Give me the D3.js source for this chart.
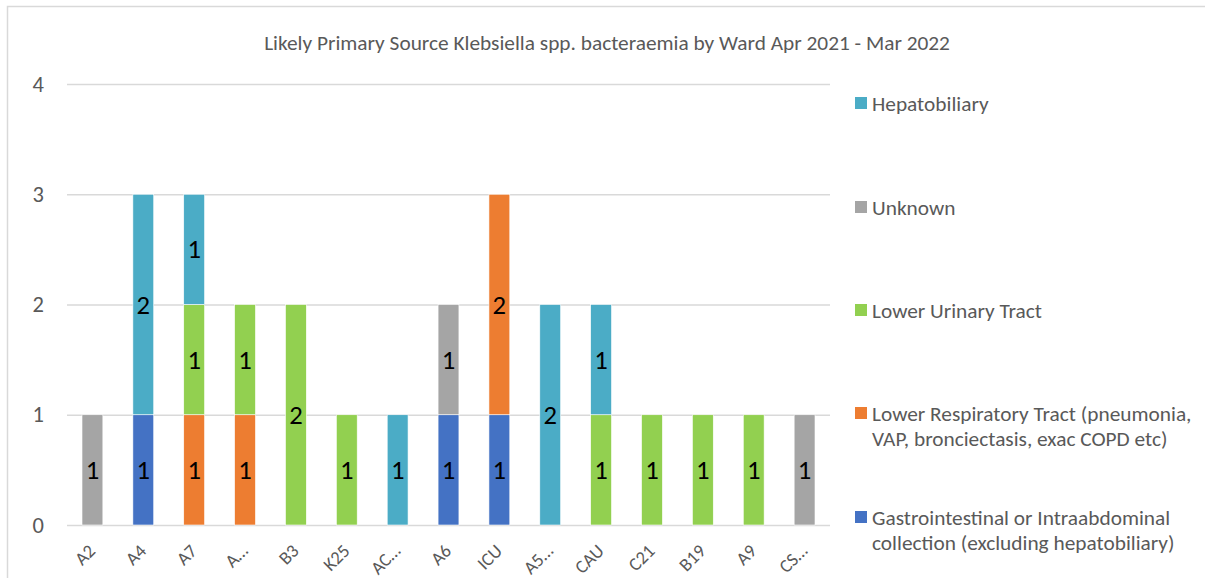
<!DOCTYPE html>
<html>
<head>
<meta charset="utf-8">
<script src="https://cdn.jsdelivr.net/npm/d3@7"></script>
<style>
  html, body { margin: 0; padding: 0; background: #fff; }
  svg { display: block; font-family: Calibri, Carlito, "Lato", sans-serif; }
</style>
</head>
<body>
<svg id="chart" width="1205" height="578"></svg>
<script>
// Wards and counts per likely primary source (stacked bottom to top)
const wards = ["A2", "A4", "A7", "A…", "B3", "K25", "AC…", "A6", "ICU", "A5…", "CAU", "C21", "B19", "A9", "CS…"];
const gastro      = [0, 1, 0, 0, 0, 0, 0, 1, 1, 0, 0, 0, 0, 0, 0];
const respiratory = [0, 0, 1, 1, 0, 0, 0, 0, 2, 0, 0, 0, 0, 0, 0];
const urinary     = [0, 0, 1, 1, 2, 1, 0, 0, 0, 0, 1, 1, 1, 1, 0];
const unknown     = [1, 0, 0, 0, 0, 0, 0, 1, 0, 0, 0, 0, 0, 0, 1];
const hepato      = [0, 2, 1, 0, 0, 0, 1, 0, 0, 2, 1, 0, 0, 0, 0];
const yTicks = [0, 1, 2, 3, 4];

const series = [
  { key: "gastro", name: ["Gastrointestinal or Intraabdominal", "collection (excluding hepatobiliary)"], values: gastro, color: "#4472C4" },
  { key: "resp", name: ["Lower Respiratory Tract (pneumonia,", "VAP, bronciectasis, exac COPD etc)"], values: respiratory, color: "#ED7D31" },
  { key: "urin", name: ["Lower Urinary Tract"], values: urinary, color: "#92D050" },
  { key: "unk", name: ["Unknown"], values: unknown, color: "#A5A5A5" },
  { key: "hep", name: ["Hepatobiliary"], values: hepato, color: "#4BACC6" }
];

const svg = d3.select("#chart");

// Outer chart frame
svg.append("rect")
  .attr("x", 7.5).attr("y", 6.5)
  .attr("width", 1205).attr("height", 600)
  .attr("fill", "none").attr("stroke", "#d9d9d9").attr("stroke-width", 1.5);

// Title
svg.append("text")
  .attr("x", 607).attr("y", 42)
  .attr("dy", "0.36em")
  .attr("text-anchor", "middle")
  .attr("font-size", 21.33).attr("fill", "#595959")
  .text("Likely Primary Source Klebsiella spp. bacteraemia by Ward Apr 2021 - Mar 2022");

const plot = { left: 67, right: 830, top: 84, bottom: 525 };

const x = d3.scaleBand().domain(wards).range([plot.left, plot.right]).paddingInner(0.59).paddingOuter(0.295);
const y = d3.scaleLinear().domain([0, 4]).range([plot.bottom, plot.top]);

// Gridlines
svg.append("g").selectAll("line").data(yTicks).join("line")
  .attr("x1", plot.left).attr("x2", plot.right)
  .attr("y1", d => y(d) + 0.5).attr("y2", d => y(d) + 0.5)
  .attr("stroke", "#d9d9d9").attr("stroke-width", 1.3);

// Y axis labels
const yAxis = d3.axisLeft(y).tickValues(yTicks).tickSize(0).tickPadding(0).tickFormat(d3.format("d"));
const yg = svg.append("g").attr("transform", `translate(${plot.left - 23},0)`).call(yAxis);
yg.select(".domain").remove();
yg.selectAll("text").attr("font-size", 22.5).attr("fill", "#595959")
  .attr("font-family", "Calibri, Carlito, Lato, sans-serif");

// X axis labels
const xAxis = d3.axisBottom(x).tickSize(0).tickPadding(0);
const xg = svg.append("g").attr("transform", `translate(0,${plot.bottom})`).call(xAxis);
xg.select(".domain").remove();
xg.selectAll("text")
  .attr("font-size", 18.5).attr("fill", "#595959")
  .attr("font-family", "Calibri, Carlito, Lato, sans-serif")
  .attr("text-anchor", "end")
  .attr("dy", null)
  .attr("transform", "translate(4,27) rotate(-45)");

// Stacked bars
const rows = wards.map((w, i) => {
  const r = { ward: w };
  series.forEach(s => r[s.key] = s.values[i]);
  return r;
});
const stack = d3.stack().keys(series.map(s => s.key));
const layers = stack(rows);

const barG = svg.append("g");
layers.forEach((layer, li) => {
  const s = series[li];
  const g = barG.append("g");
  const segs = layer.filter(d => d[1] - d[0] > 0);
  g.selectAll("rect").data(segs).join("rect")
    .attr("x", d => x(d.data.ward))
    .attr("width", x.bandwidth())
    .attr("y", d => y(d[1]))
    .attr("height", d => y(d[0]) - y(d[1]))
    .attr("fill", s.color)
    .attr("stroke", "#fff").attr("stroke-width", 0.6);
  g.selectAll("text").data(segs).join("text")
    .attr("x", d => x(d.data.ward) + x.bandwidth() / 2)
    .attr("y", d => (y(d[0]) + y(d[1])) / 2)
    .attr("dy", "0.34em")
    .attr("text-anchor", "middle")
    .attr("font-size", 26.67).attr("fill", "#000")
    .text(d => d[1] - d[0]);
});

// Legend (top entry is the top of the stack)
const legendItems = series.slice().reverse();
const legendY = [103, 207, 310, 413, 517];
const lg = svg.append("g");
legendItems.forEach((s, i) => {
  const cy = legendY[i];
  lg.append("rect")
    .attr("x", 855).attr("y", cy - 6)
    .attr("width", 12).attr("height", 12)
    .attr("fill", s.color);
  const t = lg.append("text")
    .attr("x", 872).attr("y", cy)
    .attr("font-size", 21.33).attr("fill", "#595959");
  s.name.forEach((line, k) => {
    t.append("tspan").attr("x", 872).attr("dy", k === 0 ? "0.36em" : 25.5).text(line);
  });
});
</script>
</body>
</html>
